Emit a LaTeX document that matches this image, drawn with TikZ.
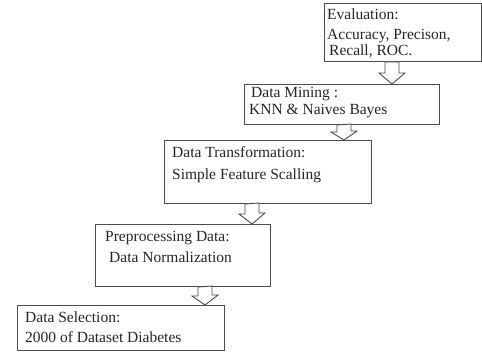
\documentclass[tikz,border=0pt]{standalone}
\usepackage{fontspec}
\setmainfont{Liberation Serif}
\usetikzlibrary{calc}
\begin{document}
\begin{tikzpicture}[x=1pt,y=-1pt,
  box/.style={draw=black!70, line width=1pt, fill=white, anchor=north west, inner sep=0pt, rectangle},
  lbl/.style={anchor=base west, inner sep=0pt, text=black!85, font=\fontsize{15.5}{18}\selectfont},
  blockarr/.style={draw=black!70, line width=0.9pt, fill=white, line join=miter}]
\useasboundingbox (0,0) rectangle (482,352);
% boxes
\node[box, minimum width=157pt, minimum height=58pt] (b1) at (324,3) {};
\node[box, minimum width=195pt, minimum height=40pt] (b2) at (244,84) {};
\node[box, minimum width=207pt, minimum height=63pt] (b3) at (164,140) {};
\node[box, minimum width=175pt, minimum height=62pt] (b4) at (95,224) {};
\node[box, minimum width=207pt, minimum height=45pt] (b5) at (17,305) {};
% texts
\node[lbl] (t1a) at (327,20) {Evaluation:};
\node[lbl] (t1b) at (327,40) {Accuracy, Precison,};
\node[lbl] (t1c) at (329,56) {Recall, ROC.};
\node[lbl] (t2a) at (251,98) {Data Mining :};
\node[lbl] (t2b) at (249,115) {KNN \& Naives Bayes};
\node[lbl] (t3a) at (172,158) {Data Transformation:};
\node[lbl] (t3b) at (172,180) {Simple Feature Scalling};
\node[lbl] (t4a) at (105,242) {Preprocessing Data:};
\node[lbl] (t4b) at (109,263) {Data Normalization};
\node[lbl] (t5a) at (25,323) {Data Selection:};
\node[lbl] (t5b) at (25,343) {2000 of Dataset Diabetes};
% block arrows (from each box down to the next)
\coordinate (a1) at ($(b1.south west)+(68,0)$);
\coordinate (a2) at ($(b2.south west)+(100,0)$);
\coordinate (a3) at ($(b3.south west)+(88,0)$);
\coordinate (a4) at ($(b4.south west)+(110,0)$);
\draw[blockarr] ($(a1)+(-7,0)$) -- ++(0,11) -- ++(-6,0) -- ($(a1 |- b2.north)$) -- ++(13,-11) -- ++(-6,0) -- ++(0,-11) -- cycle;
\draw[blockarr] ($(a2)+(-7,0)$) -- ++(0,7) -- ++(-6,0) -- ($(a2 |- b3.north)$) -- ++(13,-9) -- ++(-6,0) -- ++(0,-7) -- cycle;
\draw[blockarr] ($(a3)+(-7,0)$) -- ++(0,10) -- ++(-6,0) -- ($(a3 |- b4.north)$) -- ++(13,-11) -- ++(-6,0) -- ++(0,-10) -- cycle;
\draw[blockarr] ($(a4)+(-7,0)$) -- ++(0,9) -- ++(-6,0) -- ($(a4 |- b5.north)$) -- ++(13,-10) -- ++(-6,0) -- ++(0,-9) -- cycle;
\end{tikzpicture}
\end{document}
